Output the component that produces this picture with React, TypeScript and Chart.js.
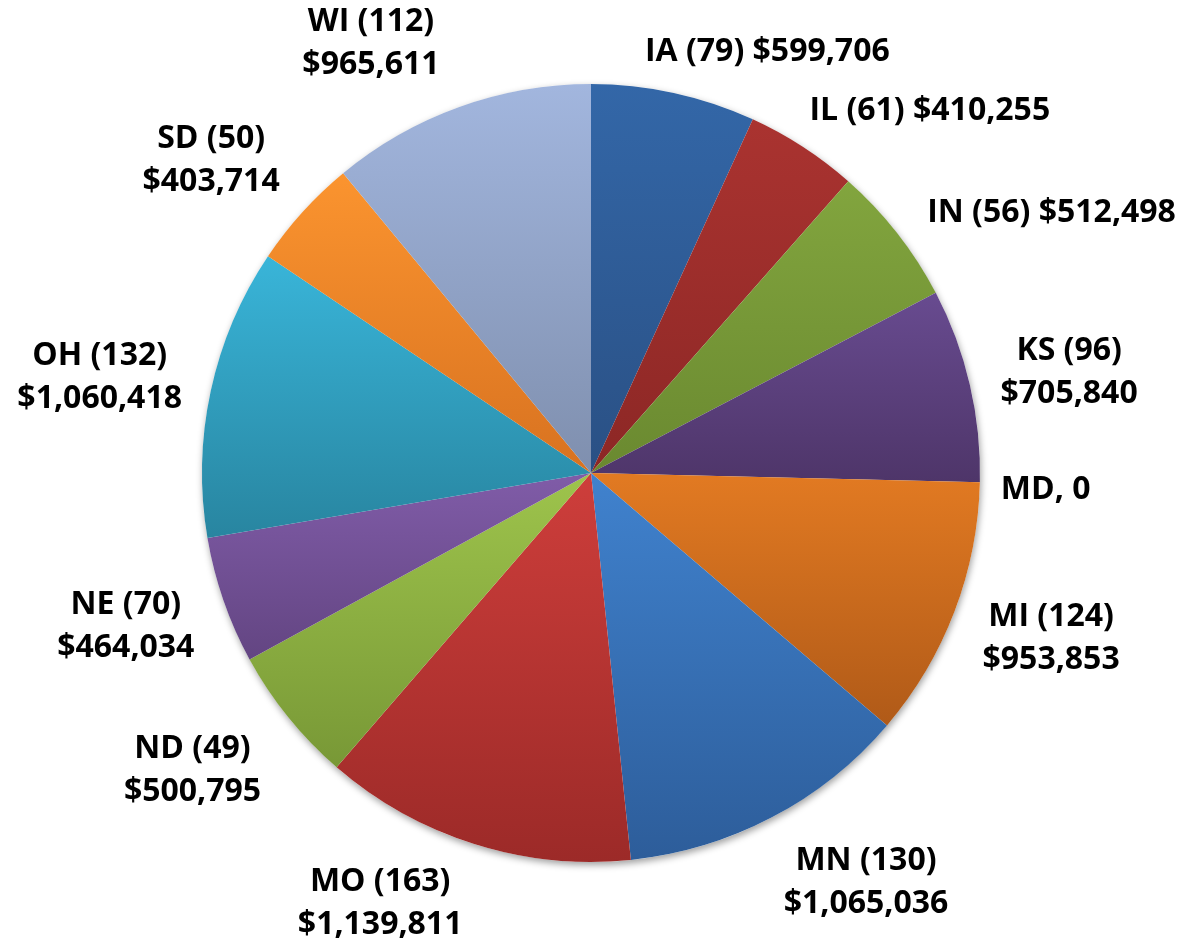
import React, { useEffect, useRef } from "react";
import { Chart, registerables } from "chart.js";

Chart.register(...registerables);

// ---- data ----
const STATES = ["IA", "IL", "IN", "KS", "MD", "MI", "MN", "MO", "ND", "NE", "OH", "SD", "WI"];
const COUNTS: (number | null)[] = [79, 61, 56, 96, null, 124, 130, 163, 49, 70, 132, 50, 112];
const AMOUNTS = [599706, 410255, 512498, 705840, 0, 953853, 1065036, 1139811, 500795, 464034, 1060418, 403714, 965611];

// ---- styles ----
const TOP_COLORS = ["#3367A8", "#AA3330", "#82A53E", "#684B90", "#2FA3C4", "#E27A22", "#4082CE", "#CE3E3B", "#9EC44C", "#805CA8", "#39B5D9", "#FB942F", "#A2B6DE"];
const BOTTOM_COLORS = ["#2A5084", "#8C2725", "#6A8930", "#4E3569", "#2886A0", "#B05A18", "#2D5D9A", "#9C2A28", "#789836", "#634582", "#2885A0", "#D87220", "#7F8FAE"];
const TWO_LINE = [false, false, false, true, false, true, true, true, true, true, true, true, true];
const NUDGE: [number, number][] = [
  [63, 1], [50, 0], [40, 6], [12, 2], [0, 7], [13, 3], [46, 7], [-63, -3], [-26, 12], [-13, 5], [-10, 0], [-25, -8], [-58, -2],
];
const FONT = "bold 32px 'Open Sans', 'Noto Sans', sans-serif";
const LINE_H = 43;

const fmt = (v: number) => "$" + v.toLocaleString("en-US");

function labelLines(i: number): string[] {
  const c = COUNTS[i];
  if (c === null) return [`${STATES[i]}, ${AMOUNTS[i]}`];
  const a = `${STATES[i]} (${c})`;
  const b = fmt(AMOUNTS[i]);
  return TWO_LINE[i] ? [a, b] : [a + " " + b];
}

const gradientPlugin = {
  id: "sliceGradients",
  beforeDatasetsDraw(chart: any) {
    const ctx = chart.ctx as CanvasRenderingContext2D;
    const meta = chart.getDatasetMeta(0);
    if (!meta.data.length) return;
    const a0 = meta.data[0];
    // shadow under the pie
    ctx.save();
    ctx.beginPath();
    ctx.arc(a0.x, a0.y, a0.outerRadius, 0, Math.PI * 2);
    ctx.fillStyle = "#ffffff";
    ctx.shadowColor = "rgba(0,0,0,0.38)";
    ctx.shadowBlur = 7;
    ctx.shadowOffsetX = 1;
    ctx.shadowOffsetY = 3;
    ctx.fill();
    ctx.restore();
    meta.data.forEach((arc: any, i: number) => {
      const { x, y, startAngle, endAngle, outerRadius: r } = arc;
      const ys = [y, y + r * Math.sin(startAngle), y + r * Math.sin(endAngle)];
      const norm = (t: number) => {
        let v = t;
        while (v < startAngle) v += Math.PI * 2;
        return v;
      };
      if (norm(Math.PI / 2) <= endAngle) ys.push(y + r);
      if (norm(-Math.PI / 2) <= endAngle) ys.push(y - r);
      const y0 = Math.min(...ys);
      let y1 = Math.max(...ys);
      if (y1 - y0 < 1) y1 = y0 + 1;
      const g = ctx.createLinearGradient(0, y0, 0, y1);
      g.addColorStop(0, TOP_COLORS[i]);
      g.addColorStop(1, BOTTOM_COLORS[i]);
      arc.options = Object.assign({}, arc.options, { backgroundColor: g });
    });
  },
};

const labelPlugin = {
  id: "outsideLabels",
  afterDatasetsDraw(chart: any) {
    const ctx = chart.ctx as CanvasRenderingContext2D;
    const meta = chart.getDatasetMeta(0);
    ctx.save();
    ctx.font = FONT;
    ctx.fillStyle = "#000000";
    ctx.textAlign = "center";
    ctx.textBaseline = "middle";
    meta.data.forEach((arc: any, i: number) => {
      const { x, y, startAngle, endAngle, outerRadius: r } = arc;
      const mid = (startAngle + endAngle) / 2;
      const cs = Math.cos(mid);
      const sn = Math.sin(mid);
      const lines = labelLines(i);
      const w = Math.max(...lines.map((l) => ctx.measureText(l).width));
      const h = lines.length * (LINE_H + 1);
      const d = r + 21;
      const lx = x + d * cs + (w / 2) * cs + NUDGE[i][0];
      const ly = y + d * sn + (h / 2) * sn + NUDGE[i][1];
      lines.forEach((t, k) => {
        ctx.fillText(t, lx, ly + (k - (lines.length - 1) / 2) * LINE_H);
      });
    });
    ctx.restore();
  },
};

export default function App() {
  const ref = useRef<HTMLCanvasElement | null>(null);
  useEffect(() => {
    if (!ref.current) return;
    const chart = new Chart(ref.current, {
      type: "pie",
      data: {
        labels: STATES,
        datasets: [
          {
            data: AMOUNTS,
            backgroundColor: TOP_COLORS,
            borderWidth: 0,
          },
        ],
      },
      options: {
        animation: false,
        responsive: false,
        maintainAspectRatio: false,
        layout: { padding: { top: 84, bottom: 82, left: 202, right: 202 } },
        plugins: { legend: { display: false }, tooltip: { enabled: false } },
      },
      plugins: [gradientPlugin, labelPlugin],
    });
    return () => chart.destroy();
  }, []);
  return (
    <div style={{ position: "fixed", left: 0, top: 0, width: 1182, height: 944, background: "#ffffff" }}>
      <canvas ref={ref} width={1182} height={944} style={{ width: 1182, height: 944 }} />
    </div>
  );
}
